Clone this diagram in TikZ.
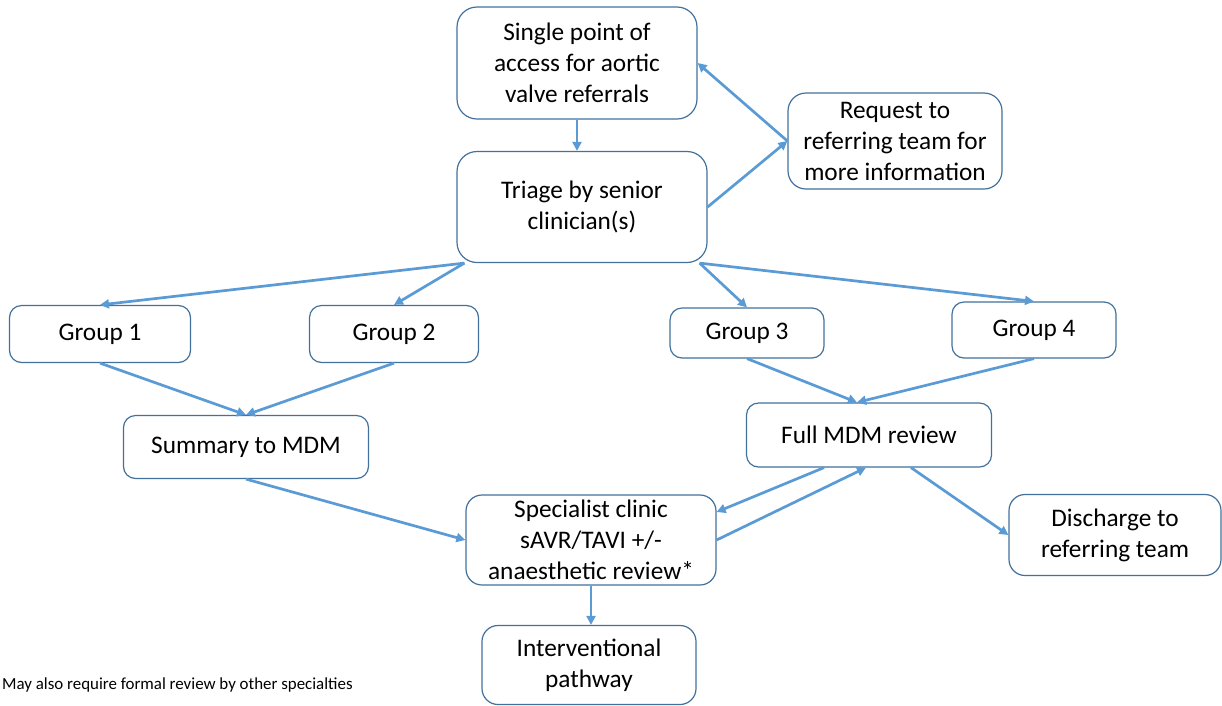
\documentclass[tikz,border=0pt]{standalone}
\usepackage{fontspec}
\setmainfont{Carlito}
\usetikzlibrary{arrows.meta}
\definecolor{lineblue}{RGB}{91,155,213}
\definecolor{edgeblue}{RGB}{65,113,156}

\begin{document}
\begin{tikzpicture}[x=1pt, y=-1pt,
      box/.style={draw=edgeblue, rounded corners=12pt, line width=1.2pt, fill=white,
                  font=\fontsize{25.3}{31}\selectfont, align=center, inner sep=0pt},
      arrow/.style={-{Triangle[length=9pt,width=9pt]}, line width=2.7pt, lineblue},
      note/.style={font=\fontsize{16.9}{19}\selectfont, anchor=west, inner sep=0pt}
    ]
    \useasboundingbox (0,0) rectangle (1222,705);
    % top part
    \node[box, rounded corners=20pt, minimum width=240pt, minimum height=112pt] (spa) at (577,63) {Single point of\\access for aortic\\valve referrals};
    \node[box, rounded corners=20pt, minimum width=250pt, minimum height=111pt] (tri) at (582,207) {Triage by senior\\clinician(s)};
    \node[box, rounded corners=18pt, minimum width=214pt, minimum height=96pt] (req) at (895,141) {Request to\\referring team for\\more information};
    % groups
    \node[box, minimum width=181pt, minimum height=57pt] (g1) at (100,334) {Group 1};
    \node[box, minimum width=169pt, minimum height=57pt] (g2) at (394,334) {Group 2};
    \node[box, minimum width=154pt, minimum height=50pt] (g3) at (747,333) {Group 3};
    \node[box, minimum width=164pt, minimum height=56pt] (g4) at (1034,330) {Group 4};
    % reviews
    \node[box, minimum width=245pt, minimum height=63pt] (sum) at (246,447) {Summary to MDM};
    \node[box, minimum width=245pt, minimum height=64pt] (full) at (869,435) {Full MDM review};
    \node[box, rounded corners=16pt, minimum width=250pt, minimum height=90pt] (spe) at (591,540) {Specialist clinic\\sAVR/TAVI +/-\\anaesthetic review*};
    \node[box, rounded corners=16pt, minimum width=212pt, minimum height=81pt] (dis) at (1115,535) {Discharge to\\referring team};
    \node[box, rounded corners=16pt, minimum width=214pt, minimum height=79pt] (int) at (589,665) {Interventional\\pathway};
    \node[note] (foot) at (2,685) {May also require formal review by other specialties};
    % connectors
    \draw[arrow] (spa.south) -- (spa.south |- tri.north);
    \draw[arrow] (tri.east) -- (req.west);
    \draw[arrow] (req.west) -- (spa.east);
    \draw[arrow] ([xshift=8pt]tri.south west) -- (g1.north);
    \draw[arrow] ([xshift=8pt]tri.south west) -- (g2.north);
    \draw[arrow] ([xshift=-8pt]tri.south east) -- (g3.north);
    \draw[arrow] ([xshift=-8pt]tri.south east) -- (g4.north);
    \draw[arrow] (g1.south) -- (sum.north);
    \draw[arrow] (g2.south) -- (sum.north);
    \draw[arrow] (g3.south) -- ([xshift=-12pt]full.north);
    \draw[arrow] (g4.south) -- ([xshift=-12pt]full.north);
    \draw[arrow] (sum.south) -- (spe.west);
    \draw[arrow] ([xshift=-45pt]full.south) -- ([yshift=28pt]spe.east);
    \draw[arrow] (spe.east) -- ([xshift=-3pt]full.south);
    \draw[arrow] ([xshift=42pt]full.south) -- (dis.west);
    \draw[arrow] (spe.south) -- (spe.south |- int.north);
  \end{tikzpicture}
\end{document}
